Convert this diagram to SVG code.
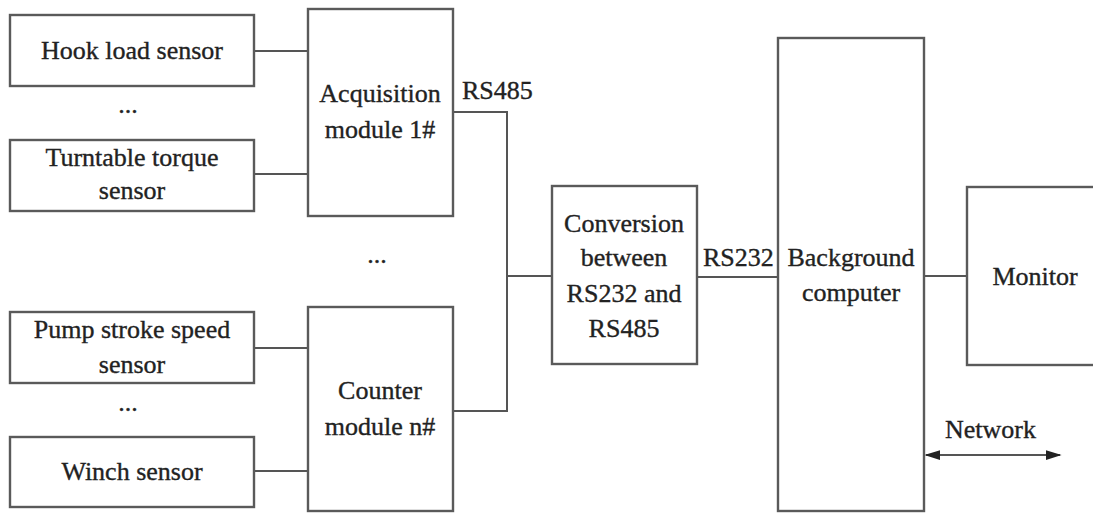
<svg xmlns="http://www.w3.org/2000/svg" width="1093" height="513" viewBox="0 0 1093 513">
<defs>
<style>
.box{fill:#fff;stroke:#5a5a5a;stroke-width:2.4}
.ln{fill:none;stroke:#555;stroke-width:2}
.t{font-family:"Liberation Serif","Times New Roman",serif;font-size:26px;fill:#222;stroke:#222;stroke-width:0.35;text-anchor:middle}
.l{font-family:"Liberation Serif","Times New Roman",serif;font-size:26px;fill:#222;stroke:#222;stroke-width:0.35}
</style>
<marker id="ah" viewBox="0 0 10 10" refX="9" refY="5" markerWidth="16" markerHeight="10" markerUnits="userSpaceOnUse" orient="auto-start-reverse" preserveAspectRatio="none">
<path d="M0,0 L10,5 L0,10 z" fill="#222"/>
</marker>
</defs>
<rect width="1093" height="513" fill="#fff"/>
<g id="connectors">
<line class="ln" x1="254" y1="51" x2="308" y2="51"/>
<line class="ln" x1="254" y1="174" x2="308" y2="174"/>
<line class="ln" x1="254" y1="348" x2="308" y2="348"/>
<line class="ln" x1="254" y1="471" x2="308" y2="471"/>
<polyline class="ln" points="453,112 507,112 507,411 453,411"/>
<line class="ln" x1="507" y1="276" x2="552" y2="276"/>
<line class="ln" x1="697" y1="277" x2="778" y2="277"/>
<line class="ln" x1="924" y1="276" x2="967" y2="276"/>
<line class="ln" x1="926" y1="455" x2="1060" y2="455" marker-start="url(#ah)" marker-end="url(#ah)"/>
<text class="l" x="462" y="99">RS485</text>
<text class="l" x="703" y="266">RS232</text>
<text class="l" x="945" y="438">Network</text>
</g>
<g id="hook">
<rect class="box" x="10" y="15" width="244" height="71"/>
<text class="t" x="132" y="59">Hook load sensor</text>
</g>
<text class="t" x="128" y="113">...</text>
<g id="turntable">
<rect class="box" x="10" y="140" width="244" height="71"/>
<text class="t" x="132" y="166">Turntable torque</text>
<text class="t" x="132" y="199">sensor</text>
</g>
<g id="pump">
<rect class="box" x="10" y="312" width="244" height="71"/>
<text class="t" x="132" y="338">Pump stroke speed</text>
<text class="t" x="132" y="373">sensor</text>
</g>
<text class="t" x="128" y="411">...</text>
<g id="winch">
<rect class="box" x="10" y="437" width="244" height="70"/>
<text class="t" x="132" y="480">Winch sensor</text>
</g>
<g id="acq">
<rect class="box" x="308" y="9" width="145" height="207"/>
<text class="t" x="380" y="102">Acquisition</text>
<text class="t" x="380" y="138">module 1#</text>
</g>
<text class="t" x="377" y="263">...</text>
<g id="counter">
<rect class="box" x="308" y="307" width="145" height="204"/>
<text class="t" x="380" y="399">Counter</text>
<text class="t" x="380" y="435">module n#</text>
</g>
<g id="conversion">
<rect class="box" x="552" y="186" width="145" height="178"/>
<text class="t" x="624" y="232">Conversion</text>
<text class="t" x="624" y="266">between</text>
<text class="t" x="624" y="302">RS232 and</text>
<text class="t" x="624" y="337">RS485</text>
</g>
<g id="background">
<rect class="box" x="778" y="38" width="146" height="473"/>
<text class="t" x="851" y="266">Background</text>
<text class="t" x="851" y="301">computer</text>
</g>
<g id="monitor">
<rect class="box" x="967" y="187" width="140" height="178"/>
<text class="t" x="1035" y="285">Monitor</text>
</g>
</svg>
